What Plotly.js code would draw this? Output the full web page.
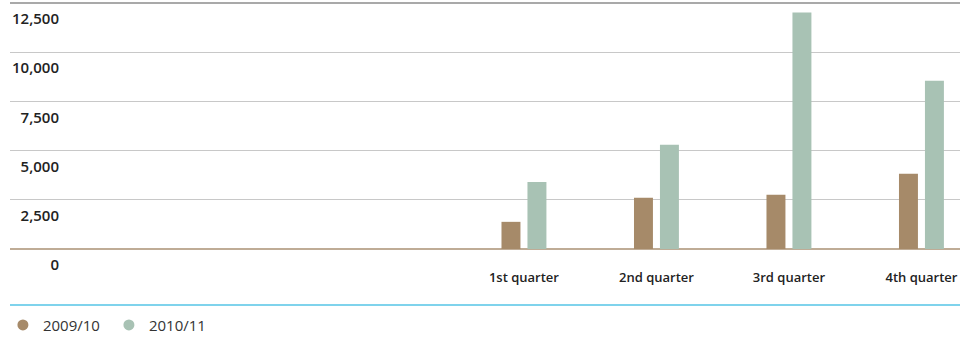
<!DOCTYPE html>
<html>
<head>
<meta charset="utf-8">
<script src="https://cdn.plot.ly/plotly-3.0.1.min.js"></script>
<style>html,body{margin:0;padding:0;background:#fff;}#chart{width:971px;height:338px;}</style>
</head>
<body>
<div id="chart"></div>
<script>
const categories = ['1st quarter', '2nd quarter', '3rd quarter', '4th quarter'];
const seriesNames = ['2009/10', '2010/11'];
const values2009 = [1380, 2600, 2760, 3830];
const values2010 = [3410, 5300, 12020, 8550];
const yTickVals = [0, 2500, 5000, 7500, 10000, 12500];
const yTickText = ['0', '2,500', '5,000', '7,500', '10,000', '12,500'];
const colors = ['#a68a69', '#a8c2b4'];

const font = 'Open Sans, Noto Sans, sans-serif';

const traces = [
  {type: 'bar', x: categories, y: values2009, name: seriesNames[0], marker: {color: colors[0]}, showlegend: false, hoverinfo: 'skip', cliponaxis: false},
  {type: 'bar', x: categories, y: values2010, name: seriesNames[1], marker: {color: colors[1]}, showlegend: false, hoverinfo: 'skip', cliponaxis: false},
  {type: 'scatter', mode: 'markers', x: [null], y: [null], name: seriesNames[0], marker: {color: colors[0], size: 11, symbol: 'circle'}},
  {type: 'scatter', mode: 'markers', x: [null], y: [null], name: seriesNames[1], marker: {color: colors[1], size: 11, symbol: 'circle'}}
];

const layout = {
  width: 971, height: 338,
  margin: {l: 10, r: 11, t: 3, b: 89, pad: 0, autoexpand: false},
  paper_bgcolor: '#fff', plot_bgcolor: '#fff',
  font: {family: font, color: '#222'},
  barmode: 'group',
  bargap: 0.608,
  bargroupgap: 0.27,
  xaxis: {
    type: 'category',
    range: [-3.879, 3.291],
    automargin: false,
    showgrid: false, zeroline: false, showline: false,
    ticks: '', ticklabelstandoff: 19,
    tickfont: {family: font, size: 13, weight: 600, color: '#222'},
    fixedrange: true
  },
  yaxis: {
    range: [0, 12500],
    automargin: false,
    tickvals: yTickVals, ticktext: yTickText,
    showgrid: true, gridcolor: '#c8c8c8', gridwidth: 1.3,
    zeroline: true, zerolinecolor: '#bfac96', zerolinewidth: 2,
    showline: false, ticks: '',
    ticklabelstandoff: -50, ticklabelshift: 16,
    tickfont: {family: font, size: 15, weight: 600, color: '#222'},
    fixedrange: true
  },
  shapes: [
    {type: 'line', xref: 'paper', yref: 'paper', x0: 0, x1: 1, y0: 1, y1: 1, line: {color: '#8c8c8c', width: 1.3}},
    {type: 'line', xref: 'paper', yref: 'paper', x0: 0, x1: 1, y0: -0.228, y1: -0.228, line: {color: '#7fd3ec', width: 2}}
  ],
  showlegend: true,
  legend: {
    orientation: 'h', xref: 'container', yref: 'container',
    x: 0.003, xanchor: 'left', y: 0.038, yanchor: 'middle',
    font: {family: font, size: 15, color: '#333'},
    itemwidth: 30, entrywidth: 61, bgcolor: 'rgba(0,0,0,0)'
  }
};

Plotly.newPlot('chart', traces, layout, {displayModeBar: false, staticPlot: true});
</script>
</body>
</html>
